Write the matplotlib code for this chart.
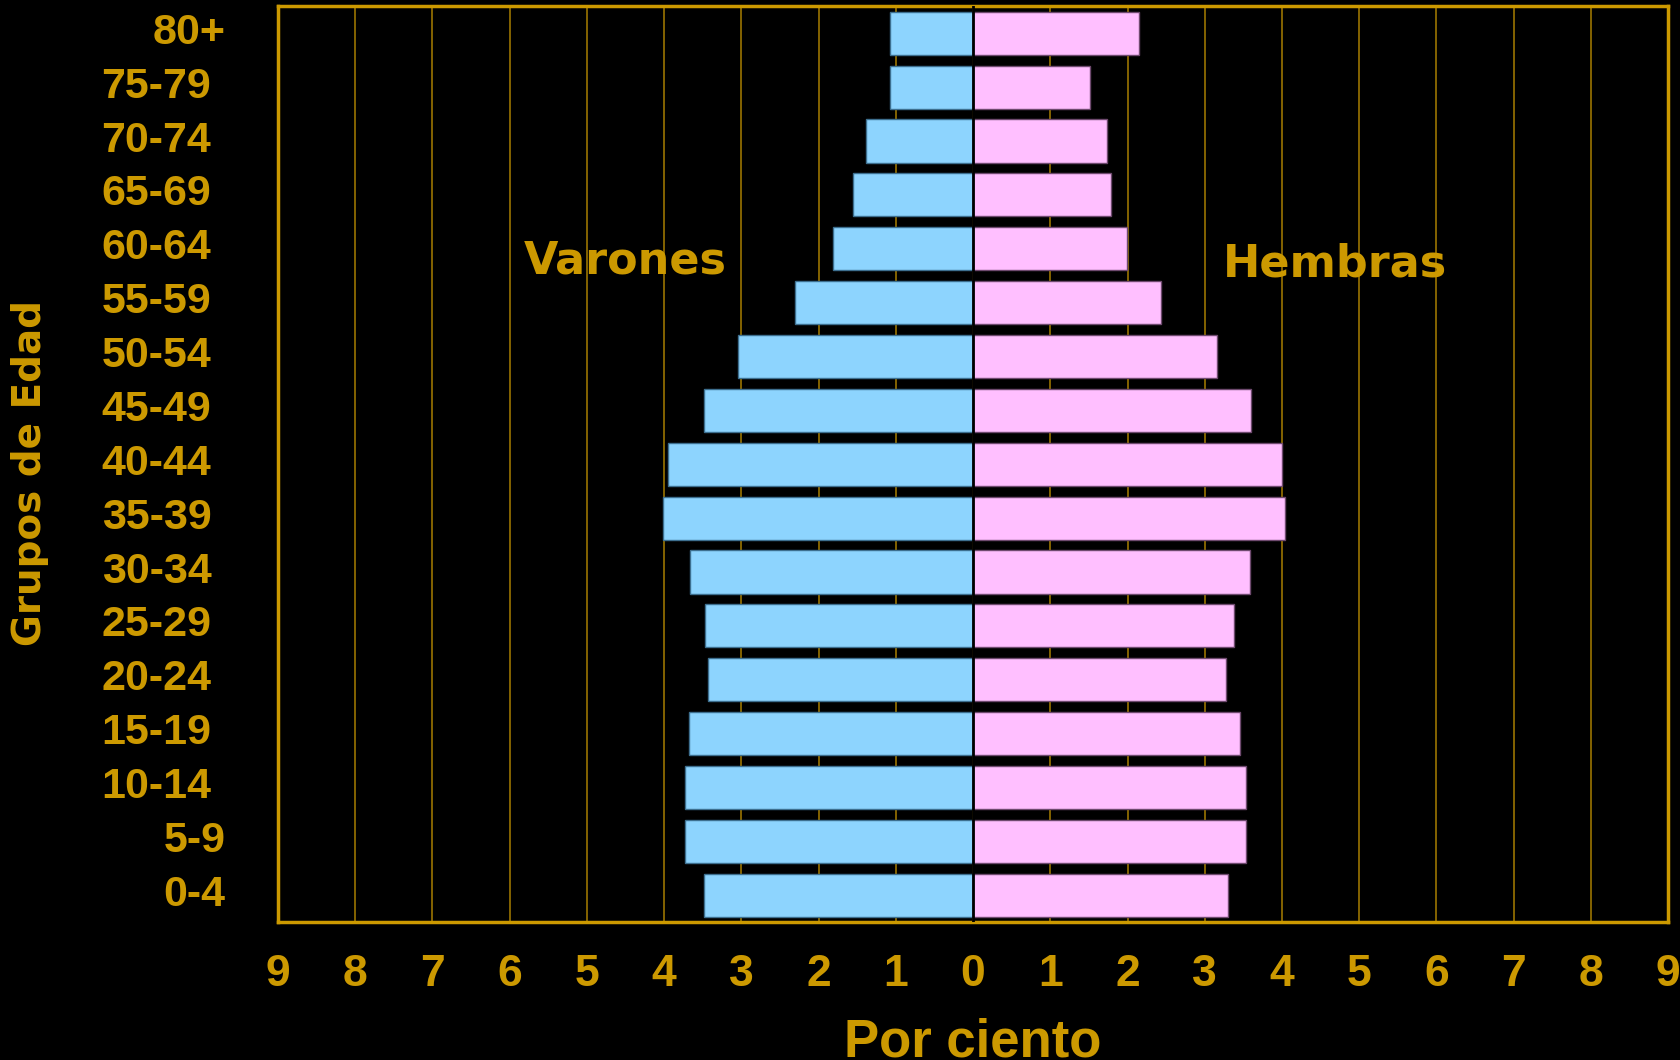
import matplotlib.pyplot as plt
import matplotlib.transforms as mtransforms
import numpy as np

grupos = ['0-4', '5-9', '10-14', '15-19', '20-24', '25-29', '30-34', '35-39',
          '40-44', '45-49', '50-54', '55-59', '60-64', '65-69', '70-74',
          '75-79', '80+']
varones = [3.48, 3.73, 3.73, 3.68, 3.43, 3.47, 3.66, 4.01,
           3.95, 3.49, 3.05, 2.30, 1.82, 1.55, 1.38, 1.07, 1.08]
hembras = [3.30, 3.53, 3.53, 3.46, 3.27, 3.38, 3.59, 4.04,
           4.00, 3.60, 3.16, 2.44, 1.99, 1.79, 1.73, 1.52, 2.15]
xticks = list(range(-9, 10))

oro = '#CC9900'
azul = '#8DD4FE'
rosa = '#FFBFFF'

fig = plt.figure(figsize=(16.8, 10.6), dpi=100, facecolor='black')
ax = fig.add_axes([0.1655, 0.130, 0.8274, 0.864])
ax.set_facecolor('black')

y = np.arange(len(grupos))
ax.barh(y, -np.array(varones), height=0.8, color=azul, edgecolor='#3d6f8f',
        linewidth=1, zorder=2)
ax.barh(y, hembras, height=0.8, color=rosa, edgecolor='#6f4a6f',
        linewidth=1, zorder=2)
ax.axvline(0, color='black', lw=2, zorder=3)

ax.set_xlim(-9, 9)
ax.set_ylim(-0.5, len(grupos) - 0.5)
ax.set_xticks(xticks)
ax.set_xticklabels([str(abs(t)) for t in xticks])
ax.set_yticks(y)
ax.set_yticklabels(grupos)
ax.grid(axis='x', color='#a87e00', lw=1.1, zorder=1)
ax.set_axisbelow(True)

ax.tick_params(axis='both', length=0, colors=oro)
ax.tick_params(axis='x', pad=23)
ax.tick_params(axis='y', pad=48)
for lab in ax.get_xticklabels():
    lab.set_fontfamily('Liberation Sans')
    lab.set_fontweight('bold')
    lab.set_fontsize(32)
for lab in ax.get_yticklabels():
    lab.set_fontfamily('Liberation Sans')
    lab.set_fontweight('bold')
    lab.set_fontsize(31)
    dx = 0.14 if lab.get_text() in ('80+', '5-9', '0-4') else 0
    lab.set_transform(lab.get_transform() +
                      mtransforms.ScaledTranslation(dx, 0.05, fig.dpi_scale_trans))

for s in ax.spines.values():
    s.set_color(oro)
    s.set_linewidth(2.5)

ax.set_xlabel('Por ciento', color=oro, fontsize=38, fontweight='bold',
              family='Liberation Sans', labelpad=16)
ax.set_ylabel('Grupos de Edad', color=oro, fontsize=28, fontweight='bold',
              family='DejaVu Sans')
ax.yaxis.set_label_coords(-0.165, 0.49)

ax.text(-4.5, 11.78, 'Varones', color=oro, fontsize=32, fontweight='bold',
        family='DejaVu Sans', ha='center', va='center')
ax.text(4.69, 11.72, 'Hembras', color=oro, fontsize=32, fontweight='bold',
        family='DejaVu Sans', ha='center', va='center')

fig.savefig('out.png', dpi=100, facecolor='black')
